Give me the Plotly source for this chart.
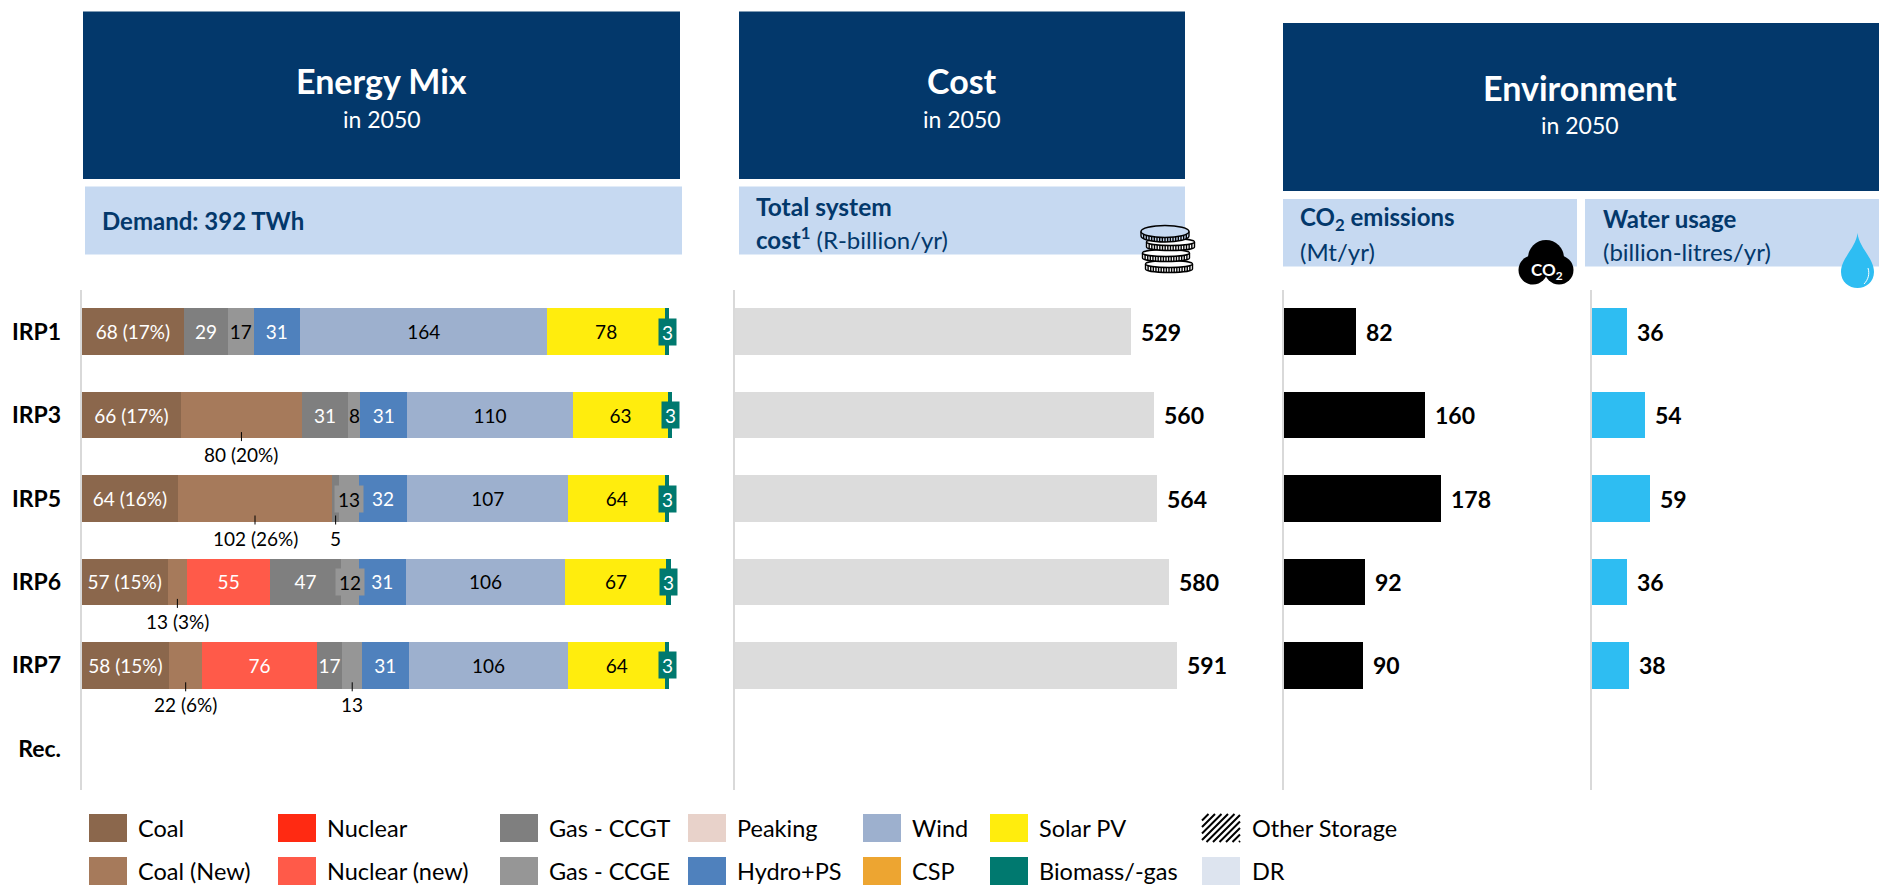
import plotly.graph_objects as go

W, H = 1883, 894
FONT = "Lato"
NAVY = "#03386B"
PALE = "#C6D9F1"
AXIS_GREY = "#D9D9D9"

categories = ["IRP1", "IRP3", "IRP5", "IRP6", "IRP7", "Rec."]

coal = [68, 66, 64, 57, 58]
coal_new = [0, 80, 102, 13, 22]
nuclear_new = [0, 0, 0, 55, 76]
gas_ccgt = [29, 31, 5, 47, 17]
gas_ccge = [17, 8, 13, 12, 13]
hydro_ps = [31, 31, 32, 31, 31]
wind = [164, 110, 107, 106, 106]
solar_pv = [78, 63, 64, 67, 64]
biomass = [3, 3, 3, 3, 3]

coal_shares = ["17%", "17%", "16%", "15%", "15%"]
coal_new_shares = ["", "20%", "26%", "3%", "6%"]

total_cost = [529, 560, 564, 580, 591]
co2_emissions = [82, 160, 178, 92, 90]
water_usage = [36, 54, 59, 36, 38]

legend_col1 = ["Coal", "Coal (New)"]
legend_col2 = ["Nuclear", "Nuclear (new)"]
legend_col3 = ["Gas - CCGT", "Gas - CCGE"]
legend_col4 = ["Peaking", "Hydro+PS"]
legend_col5 = ["Wind", "CSP"]
legend_col6 = ["Solar PV", "Biomass/-gas"]
legend_col7 = ["Other Storage", "DR"]

COLORS = {
    "Coal": "#8B674C", "Coal (New)": "#A67A5B", "Nuclear": "#FF2A12",
    "Nuclear (new)": "#FF5A49", "Gas - CCGT": "#7F7F7F", "Gas - CCGE": "#969696",
    "Peaking": "#E8D2CA", "Hydro+PS": "#4F81BD", "Wind": "#9DB0CE", "CSP": "#EDA531",
    "Solar PV": "#FFED0D", "Biomass/-gas": "#00796F", "DR": "#DDE4EF",
}


def px(x):
    return x / W


def py(y):
    return 1 - y / H


shapes, annotations = [], []


def rect(x0, y0, x1, y1, color):
    shapes.append(dict(type="rect", xref="paper", yref="paper", x0=px(x0), x1=px(x1),
                       y0=py(y1), y1=py(y0), fillcolor=color, line=dict(width=0), layer="below"))


def label(x, y, text, size, color="#000000", anchor="left"):
    annotations.append(dict(xref="paper", yref="paper", x=px(x), y=py(y), text=text, showarrow=False,
                            xanchor=anchor, yanchor="middle", font=dict(family=FONT, size=size, color=color)))


def pth(points):
    out = ""
    for cmd, *xy in points:
        out += cmd
        for i in range(0, len(xy), 2):
            out += f"{px(xy[i]):.5f},{py(xy[i + 1]):.5f} "
    return out


def path(points, fill=None, line=None, width=1):
    shapes.append(dict(type="path", xref="paper", yref="paper", path=pth(points),
                       fillcolor=fill or "rgba(0,0,0,0)", line=dict(color=line or "rgba(0,0,0,0)", width=width if line else 0)))


# Header blocks
rect(83, 11.5, 680, 179, NAVY)
rect(739, 11.5, 1185, 179, NAVY)
rect(1283, 23, 1879, 191, NAVY)
rect(85, 186.5, 682, 254.5, PALE)
rect(739, 186.5, 1185, 254.5, PALE)
rect(1283, 199, 1577, 266.5, PALE)
rect(1585, 199, 1879, 266.5, PALE)

label(381.5, 80, "<b>Energy Mix</b>", 34, "#FFFFFF", "center")
label(381.5, 119, "in 2050", 23, "#FFFFFF", "center")
label(962, 80, "<b>Cost</b>", 34, "#FFFFFF", "center")
label(962, 119, "in 2050", 23, "#FFFFFF", "center")
label(1580, 87, "<b>Environment</b>", 34, "#FFFFFF", "center")
label(1580, 125, "in 2050", 23, "#FFFFFF", "center")
label(100, 221, "<b>Demand: 392 TWh</b>", 24, NAVY)
label(754, 206, "<b>Total system</b>", 24.5, NAVY)
label(754, 238, "<b>cost<sup>1</sup></b> (R-billion/yr)", 24, NAVY)
label(1298, 218, "<b>CO<sub>2</sub> emissions</b>", 24, NAVY)
label(1298, 251, "(Mt/yr)", 24, NAVY)
label(1601, 218, "<b>Water usage</b>", 24, NAVY)
label(1601, 251, "(billion-litres/yr)", 24, NAVY)

# Axes: plot rectangles share rows, each with its own value scale
TOP, BOTTOM = 290, 790.4
Y_DOMAIN = [py(BOTTOM), py(TOP)]
panels = [(81.7, 1.507, 400), (735, 0.748, 600), (1283.5, 0.886, 200), (1591.5, 0.99, 70)]

traces = []
stack = [("Coal", coal), ("Coal (New)", coal_new), ("Nuclear (new)", nuclear_new), ("Gas - CCGT", gas_ccgt),
         ("Gas - CCGE", gas_ccge), ("Hydro+PS", hydro_ps), ("Wind", wind), ("Solar PV", solar_pv),
         ("Biomass/-gas", biomass)]
WHITE_TEXT = {"Coal", "Nuclear (new)", "Gas - CCGT", "Hydro+PS"}
BOXED = {("IRP5", "Gas - CCGE"), ("IRP6", "Gas - CCGE")}
BELOW = {("IRP3", "Coal (New)"), ("IRP5", "Coal (New)"), ("IRP5", "Gas - CCGT"), ("IRP6", "Coal (New)"),
         ("IRP7", "Coal (New)"), ("IRP7", "Gas - CCGE")}
rows = categories[:5]
cumulative = [0] * 5
BOTTOM_OFFSET_TICK = (-17, -26)
BAR_FONT = 19
for name, values in stack:
    texts = []
    for i, (row, v) in enumerate(zip(rows, values)):
        mid = cumulative[i] + v / 2
        txt = str(v)
        if name == "Coal":
            txt = f"{v} ({coal_shares[i]})"
        if name == "Coal (New)" and v:
            txt = f"{v} ({coal_new_shares[i]})"
        if (row, name) in BELOW:
            annotations.append(dict(xref="x", yref="y", x=mid, y=row, yshift=-39.5, text=txt, showarrow=False,
                                    xanchor="center", yanchor="middle", font=dict(family=FONT, size=BAR_FONT, color="#000000")))
            shapes.append(dict(type="line", xref="x", yref="y", xsizemode="scaled", ysizemode="pixel", yanchor=row,
                               x0=mid, x1=mid, y0=BOTTOM_OFFSET_TICK[0], y1=BOTTOM_OFFSET_TICK[1],
                               line=dict(color="#000000", width=1)))
            txt = None
        elif (row, name) in BOXED:
            annotations.append(dict(xref="x", yref="y", x=mid, y=row, text=txt, showarrow=False, width=28, height=26,
                                    bgcolor=COLORS[name], borderpad=0, xanchor="center", yanchor="middle",
                                    font=dict(family=FONT, size=BAR_FONT, color="#000000")))
            txt = None
        elif name == "Biomass/-gas":
            annotations.append(dict(xref="x", yref="y", x=mid, y=row, text=txt, showarrow=False, width=17, height=26,
                                    bgcolor=COLORS[name], borderpad=0, xanchor="center", yanchor="middle",
                                    font=dict(family=FONT, size=BAR_FONT, color="#FFFFFF")))
            txt = None
        elif not v:
            txt = None
        texts.append(txt)
        cumulative[i] += v
    traces.append(go.Bar(
        name=name, y=rows, x=values, orientation="h", xaxis="x", yaxis="y",
        marker=dict(color=COLORS[name], line=dict(width=0)), text=texts, textposition="inside",
        insidetextanchor="middle", textangle=0, constraintext="none",
        textfont=dict(family=FONT, size=BAR_FONT, color="#FFFFFF" if name in WHITE_TEXT else "#000000"),
        hoverinfo="x+y+name",
    ))

for idx, (name, values, color) in enumerate([("Total system cost", total_cost, "#DCDCDC"),
                                              ("CO2 emissions", co2_emissions, "#000000"),
                                              ("Water usage", water_usage, "#2EBDF2")], start=2):
    traces.append(go.Bar(name=name, y=rows, x=values, orientation="h", xaxis=f"x{idx}", yaxis=f"y{idx}",
                         marker=dict(color=color, line=dict(width=0)), hoverinfo="x+y+name"))
    for row, v in zip(rows, values):
        annotations.append(dict(xref=f"x{idx}", yref=f"y{idx}", x=v, y=row, xshift=8, text=f"<b>{v}</b>",
                                showarrow=False, xanchor="left", yanchor="middle",
                                font=dict(family=FONT, size=23, color="#000000")))

layout_axes = {}
for i, (start, scale, maxv) in enumerate(panels, start=1):
    sfx = "" if i == 1 else str(i)
    layout_axes[f"xaxis{sfx}"] = dict(domain=[px(start), px(start + scale * maxv)], range=[0, maxv], visible=False,
                                      anchor=f"y{sfx}")
    layout_axes[f"yaxis{sfx}"] = dict(domain=Y_DOMAIN, anchor=f"x{sfx}", type="category", categoryorder="array",
                                      categoryarray=categories, range=[5.5, -0.5], showgrid=False, zeroline=False,
                                      showline=True, linecolor=AXIS_GREY, linewidth=2, ticks="", fixedrange=True,
                                      showticklabels=i == 1, ticklabelstandoff=14,
                                      tickfont=dict(family=FONT, size=23, color="#000000"),
                                      tickprefix="<b>", ticksuffix="</b>")

# Legend
swatch_columns = [(89, legend_col1), (278, legend_col2), (500, legend_col3), (688, legend_col4),
                  (863, legend_col5), (990, legend_col6), (1202, legend_col7)]
ROWS_Y = [(814, 842), (857, 885)]
for x0, names in swatch_columns:
    for name, (y0, y1) in zip(names, ROWS_Y):
        label(x0 + (48 if x0 == 1202 else 47), (y0 + y1) / 2, name, 23.5)
        if name in COLORS:
            rect(x0, y0, x0 + 38, y1, COLORS[name])
        else:
            # Diagonal hatch of the "Other Storage" swatch
            step, size_x, size_y = 6.5, 38, 28
            t = -size_y
            pts = []
            while t < size_x:
                xa, ya = t, size_y
                xb, yb = t + size_y, 0
                if xa < 0:
                    ya += xa
                    xa = 0
                if xb > size_x:
                    yb += xb - size_x
                    xb = size_x
                if xb > xa:
                    pts += [("M", x0 + xa, y0 + ya), ("L", x0 + xb, y0 + yb)]
                t += step
            path(pts, line="#000000", width=2)


# Coins icon
def coin(cx, cy, rx, ry, band):
    k = 0.55
    fill = PALE if cy < 240 else "#FFFFFF"
    path([("M", cx - rx, cy), ("L", cx - rx, cy + band),
          ("C", cx - rx, cy + band + ry * k, cx - rx * k, cy + band + ry, cx, cy + band + ry),
          ("C", cx + rx * k, cy + band + ry, cx + rx, cy + band + ry * k, cx + rx, cy + band),
          ("L", cx + rx, cy),
          ("C", cx + rx, cy - ry * k, cx + rx * k, cy - ry, cx, cy - ry),
          ("C", cx - rx * k, cy - ry, cx - rx, cy - ry * k, cx - rx, cy), ("Z",)],
         fill=fill, line="#000000", width=1.4)
    path([("M", cx - rx, cy),
          ("C", cx - rx, cy + ry * k, cx - rx * k, cy + ry, cx, cy + ry),
          ("C", cx + rx * k, cy + ry, cx + rx, cy + ry * k, cx + rx, cy)], line="#000000", width=1.4)
    ridges = []
    for n in range(-8, 9):
        xr = cx + n * rx / 9
        yr = ry * (1 - (n / 9) ** 2) ** 0.5
        ridges += [("M", xr, cy + yr), ("L", xr, cy + band + yr)]
    path(ridges, line="#000000", width=1.4)


coin(1169, 264, 23.5, 3.5, 5)
coin(1166, 253, 23.5, 3.5, 5)
coin(1170.5, 242, 24, 3.5, 5)
coin(1165, 231.5, 24, 6, 4.5)


# CO2 cloud icon
def circle(cx, cy, r, color):
    shapes.append(dict(type="circle", xref="paper", yref="paper", x0=px(cx - r), x1=px(cx + r),
                       y0=py(cy + r), y1=py(cy - r), fillcolor=color, line=dict(width=0)))


circle(1546, 258, 18, "#000000")
circle(1533, 270, 14.5, "#000000")
circle(1559, 270, 14.5, "#000000")
label(1547, 271, "<b>CO<sub>2</sub></b>", 17, "#FFFFFF", "center")

# Water drop icon
DROP = "#2EBDF2"
path([("M", 1857.5, 233),
      ("C", 1859, 248, 1874, 258, 1874, 272),
      ("C", 1874, 282, 1866, 288, 1857.5, 288),
      ("C", 1849, 288, 1841, 282, 1841, 272),
      ("C", 1841, 258, 1856, 248, 1857.5, 233), ("Z",)], fill=DROP)
path([("M", 1868, 268), ("C", 1870, 274, 1868, 280, 1864, 284)], line="#FFFFFF", width=1)

fig = go.Figure(traces)
fig.update_layout(
    width=W, height=H, margin=dict(l=0, r=0, t=0, b=0, pad=0, autoexpand=False),
    paper_bgcolor="#FFFFFF", plot_bgcolor="#FFFFFF", showlegend=False, barmode="stack", bargap=0.44,
    shapes=shapes, annotations=annotations, font=dict(family=FONT), **layout_axes,
)
fig.write_html("out.html", config=dict(displayModeBar=False),
               post_script="document.body.style.margin='0';document.body.style.overflow='hidden';")
